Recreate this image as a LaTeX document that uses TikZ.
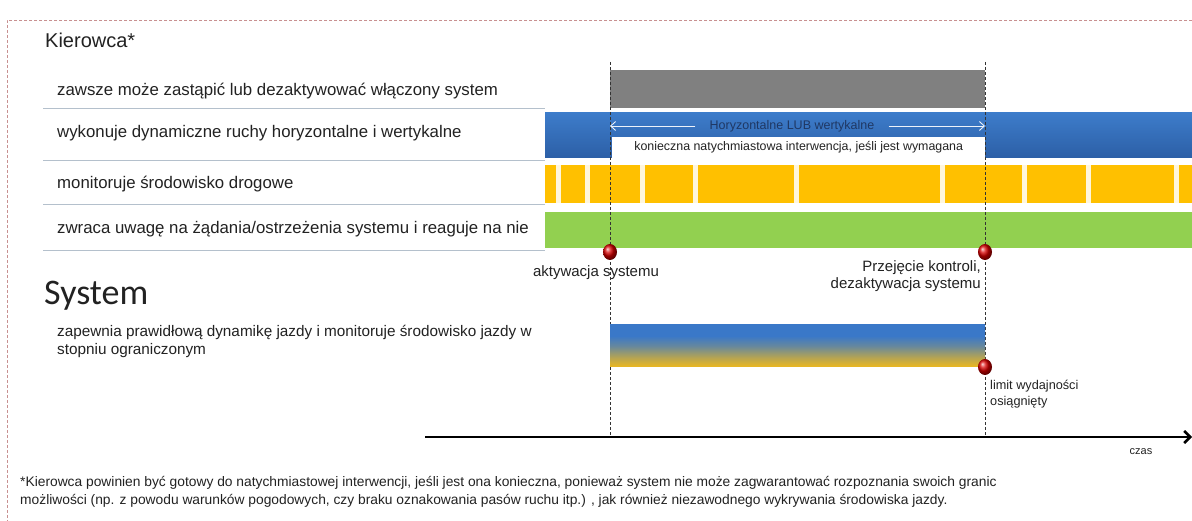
\documentclass[tikz,border=0pt]{standalone}
\usepackage{fontspec}
\setmainfont{Liberation Sans}
\newfontfamily\calibrifont{Carlito}
\usetikzlibrary{arrows.meta,shadings}

\definecolor{frame}{HTML}{C89090}
\definecolor{rowline}{HTML}{B4C0CC}
\definecolor{txt}{HTML}{222222}
\definecolor{barblue}{HTML}{3D7CCA}
\definecolor{barbluedark}{HTML}{2C5FA6}
\definecolor{bargray}{HTML}{808080}
\definecolor{barorange}{HTML}{FFC000}
\definecolor{bargreen}{HTML}{92D050}
\definecolor{stripe}{HTML}{FFF6DC}
\definecolor{navy}{HTML}{1F3864}
\definecolor{sysblue}{HTML}{3A78C8}
\definecolor{sysgold}{HTML}{EDB81E}

% blue on top, easing into gold towards the bottom edge
\pgfdeclareverticalshading{sysshade}{100bp}{%
  color(0bp)=(sysgold); color(25bp)=(sysgold); color(36bp)=(sysgold!70!sysblue);
  color(50bp)=(sysgold!25!sysblue); color(62bp)=(sysblue); color(100bp)=(sysblue)}

\tikzset{
  rowtext/.style={anchor=west, inner sep=0pt, text=txt, font=\fontsize{16.8}{20}\selectfont},
  sep/.style={draw=rowline, line width=0.8pt},
  marker/.style={dash pattern=on 3pt off 2pt, line width=0.6pt, draw=black!80},
  ball/.style={ellipse, minimum width=14pt, minimum height=16pt, inner sep=0pt, shading=ball, ball color=red!85!black},
  smalltext/.style={inner sep=0pt, text=txt, font=\fontsize{12}{14.5}\selectfont},
  hvarrow/.style={draw=white!90!barblue, line width=0.9pt, -{Straight Barb[length=5pt,width=9pt]}},
}
\usetikzlibrary{shapes.geometric}

\begin{document}
\begin{tikzpicture}[x=1pt,y=-1pt]
\useasboundingbox (0,0) rectangle (1192,521);
\fill[white] (0,0) rectangle (1192,521);

% dashed frame along the top and the left edge
\draw[draw=frame, line width=0.7pt, dash pattern=on 3pt off 2pt] (1192,20) -- (7,20) -- (7,521);

% ---------- Kierowca ----------
\node[anchor=west, inner sep=0pt, text=txt, font=\fontsize{20}{24}\selectfont] (kier) at (45,40) {Kierowca*};

\node[rowtext] (r1) at (57,91) {zawsze może zastąpić lub dezaktywować włączony system};
\node[rowtext] (r2) at (57,133) {wykonuje dynamiczne ruchy horyzontalne i wertykalne};
\node[rowtext] (r3) at (57,184) {monitoruje środowisko drogowe};
\node[rowtext] (r4) at (57,229) {zwraca uwagę na żądania/ostrzeżenia systemu i reaguje na nie};

\draw[sep] (43,108) -- (545,108);
\draw[sep] (43,160) -- (545,160);
\draw[sep] (43,204) -- (545,204);
\draw[sep] (43,250) -- (545,250);

% bars
\fill[bargray] (610,70) rectangle (985,108);
\shade[top color=barblue, bottom color=barbluedark] (545,113) rectangle (1192,158);
\fill[barorange] (545,165) rectangle (1192,203);
\foreach \s in {558,587,642,695,796,942,1024,1088,1176}
  \fill[stripe] (\s-2.5,165) rectangle (\s+2.5,203);
\fill[bargreen] (545,212) rectangle (1192,248);

% intervention box inside the blue bar
\node[draw=none, fill=white, minimum width=373pt, minimum height=21pt, inner sep=0pt,
      anchor=north west, text=txt, font=\fontsize{12.4}{14}\selectfont] (interv) at (612,137)
      {konieczna natychmiastowa interwencja, jeśli jest wymagana};

% horizontal OR vertical span
\coordinate (hvL) at (610,126);
\coordinate (hvR) at (985,126);
\node[inner sep=0pt, minimum width=193pt, minimum height=14pt, text=navy,
      font=\fontsize{12.5}{14}\selectfont] (hv) at (792,126) {Horyzontalne LUB wertykalne};
\draw[hvarrow] (hv.west) -- (hvL);
\draw[hvarrow] (hv.east) -- (hvR);

% dashed time markers
\coordinate (actTop) at (610,62);
\coordinate (actBot) at (610,437);
\coordinate (deaTop) at (985,62);
\coordinate (deaBot) at (985,437);
\draw[marker] (actTop) -- (actBot);
\draw[marker] (deaTop) -- (deaBot);

% ---------- System ----------
\node[anchor=west, inner sep=0pt, text=txt, font=\calibrifont\fontsize{36}{40}\selectfont] (sys) at (44,296) {System};
\node[anchor=north west, inner sep=0pt, text=txt, align=left,
      font=\fontsize{15.3}{18}\selectfont] (sysdesc) at (57,325)
      {zapewnia prawidłową dynamikę jazdy i monitoruje środowisko jazdy w\\stopniu ograniczonym};

\shade[shading=sysshade] (610,325) rectangle (985,367);

% events
\node[ball] (act) at (610,252) {};
\node[ball] (dea) at (985,252) {};
\node[ball] (lim) at (985,367) {};

\node[smalltext, font=\fontsize{15}{17}\selectfont, anchor=center] (actlbl) at (596,273) {aktywacja systemu};
\node[smalltext, font=\fontsize{15}{17.5}\selectfont, anchor=north east, align=right] (dealbl) at (981,260)
      {Przejęcie kontroli,\\dezaktywacja systemu};
\node[smalltext, anchor=north west, align=left, font=\fontsize{12.7}{16}\selectfont] (limlbl) at (990,380)
      {limit wydajności\\osiągnięty};

% time axis
\coordinate (t0) at (425,437);
\coordinate (t1) at (1192,437);
\draw[line width=2.6pt, -{Straight Barb[length=6pt,width=12pt]}] (t0) -- (t1);
\node[smalltext, font=\fontsize{11}{13}\selectfont] (czas) at (1141,452) {czas};

% footnote
\node[anchor=north west, inner sep=0pt, text=txt, align=left,
      font=\fontsize{13.8}{18}\selectfont] (note) at (20,476)
      {*Kierowca powinien być gotowy do natychmiastowej interwencji, jeśli jest ona konieczna, ponieważ system nie może zagwarantować rozpoznania swoich granic\\
       możliwości (np. z powodu warunków pogodowych, czy braku oznakowania pasów ruchu itp.) , jak również niezawodnego wykrywania środowiska jazdy.};
\end{tikzpicture}
\end{document}
